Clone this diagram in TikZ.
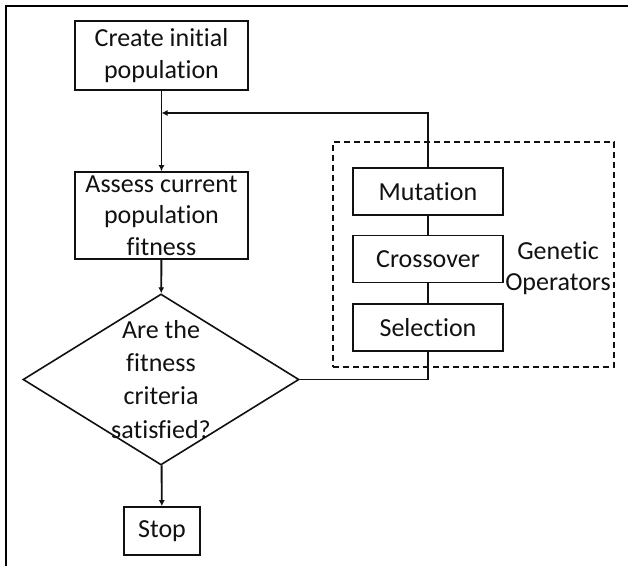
\documentclass[tikz,border=0pt]{standalone}
\usepackage{fontspec}
\setmainfont{Carlito}[RawFeature={-liga;-clig;-dlig}]
\usetikzlibrary{arrows.meta, positioning, shapes.geometric}
\definecolor{ink}{HTML}{111111}
\tikzset{
  font=\fontsize{19.5}{23.6}\selectfont,
  >={Latex[length=4.5pt, width=4.5pt]},
  %
  box/.style={
    draw=ink, line width=1.2pt, fill=white, inner sep=0pt,
    align=center, text=ink,
  },
  opbox/.style={box, minimum width=112.5pt, minimum height=35.25pt},
  decision/.style={diamond, draw=ink, line width=1.2pt, inner sep=0pt,
                   minimum width=207pt, minimum height=128.25pt},
  opsframe/.style={draw=ink, line width=1.1pt, dash pattern=on 4.5pt off 3pt,
                   minimum width=210.75pt, minimum height=168.75pt},
  %
  flow/.style={draw=ink, line width=1.4pt, ->},
  link/.style={draw=ink, line width=1.4pt},
  border/.style={draw=black, line width=2pt},
  lbl/.style={text=ink, align=center, inner sep=0pt},
}

\begin{document}
\begin{tikzpicture}[x=0.75pt, y=-0.75pt]
\useasboundingbox (0,0) rectangle (628,566);

% outer frame (only top and left edges show)
\draw[border] (6,566) -- (6,6) -- (628,6);

% =========================================================================
% main column
\node[box, minimum width=129.75pt, minimum height=51.75pt] (init) at (161.5,55.5)
  {Create initial\\population};
\node[box, minimum width=129.75pt, minimum height=65.25pt] (assess) at (161.5,215.5)
  {Assess current\\population\\fitness};
\node[decision] (check) at (161,379.5) {};
\node[lbl, font=\fontsize{19.5}{24.8}\selectfont] (checktext) at (check.center)
  {Are the\\fitness\\criteria\\satisfied?};
\node[box, minimum width=57pt, minimum height=36pt] (stop) at (162,531) {Stop};

% =========================================================================
% genetic operators
\node[opsframe] (ops) at (473.5,254.5) {};
\node[opbox] (mutation) at (428,191.5) {Mutation};
\node[opbox] (crossover) at (428,259) {Crossover};
\node[opbox] (selection) at (428,327.5) {Selection};
\node[lbl] (opslabel) at (558,268) {Genetic\\Operators};

\coordinate (merge) at (init.south |- 0,113);

% =========================================================================
\draw[flow] (init) -- (assess);
\draw[flow] (assess) -- (check);
\draw[flow] (check) -- (stop);
\draw[link] (check.east) -| (selection.south);
\draw[link] (selection) -- (crossover);
\draw[link] (crossover) -- (mutation);
\draw[flow] (mutation.north) |- (merge);

\end{tikzpicture}
\end{document}
